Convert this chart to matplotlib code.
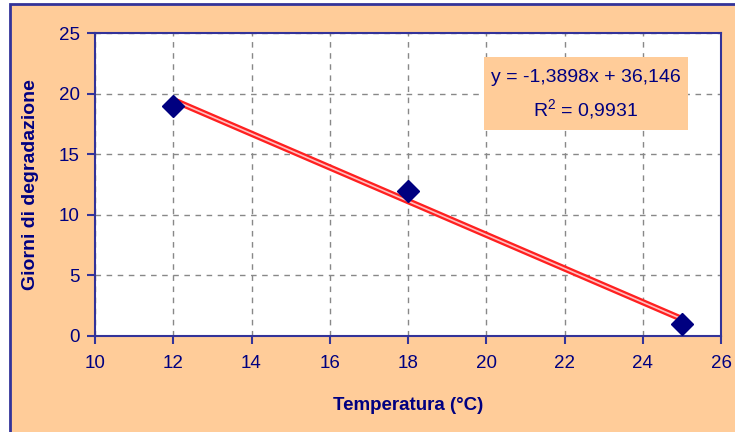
import numpy as np
import matplotlib.pyplot as plt
from matplotlib.patches import Rectangle

# dati
temperatura = [12, 18, 25]
giorni = [19, 12, 1]
x_ticks = [10, 12, 14, 16, 18, 20, 22, 24, 26]
y_ticks = [0, 5, 10, 15, 20, 25]

navy = '#000080'
bordo = '#333399'
pesca = '#FFCC99'

plt.rcParams['font.family'] = ['Liberation Sans', 'DejaVu Sans']

W, H = 735, 432
fig = plt.figure(figsize=(W / 100, H / 100), dpi=100, facecolor='white')
# sfondo dell'area del grafico con bordo
fig.add_artist(Rectangle((10 / W, -0.1), 1.0, 0.1 + 1 - 4 / H,
                         transform=fig.transFigure, facecolor=pesca,
                         edgecolor=bordo, linewidth=2, zorder=-10))

ax = fig.add_axes([95 / W, 1 - 336 / H, (721 - 95) / W, (336 - 33) / H])
ax.set_facecolor('white')

# regressione lineare
m, q = np.polyfit(temperatura, giorni, 1)
r2 = np.corrcoef(temperatura, giorni)[0, 1] ** 2
xs = np.array([min(temperatura), max(temperatura)])
ax.plot(xs, m * xs + q, color='#ff2020', lw=4.5, solid_capstyle='butt', zorder=3)
ax.plot(xs, m * xs + q, color='#ffc0c0', lw=1.2, solid_capstyle='butt', zorder=4)

ax.plot(temperatura, giorni, 'D', color=navy, markersize=11, zorder=5)

ax.set_xlim(10, 26)
ax.set_ylim(0, 25)
ax.set_xticks(x_ticks)
ax.set_yticks(y_ticks)
ax.grid(True, color='#888888', linestyle=(0, (4, 4)), linewidth=1)
ax.set_axisbelow(True)

for s in ax.spines.values():
    s.set_color(bordo)
    s.set_linewidth(1.5)
ax.tick_params(direction='out', length=6, width=1.5, color=bordo,
               labelcolor=navy, labelsize=13.5, pad=8)
ax.tick_params(axis='y', pad=5)

ax.set_xlabel('Temperatura (°C)', fontsize=13.5, fontweight='bold', color=navy,
              labelpad=18)
ax.set_ylabel('Giorni di degradazione', fontsize=14, fontweight='bold',
              color=navy, labelpad=14)

# riquadro con l'equazione della retta
fig.add_artist(Rectangle((484 / W, 1 - 130 / H), (688 - 484) / W, 73 / H,
                         transform=fig.transFigure, facecolor=pesca,
                         edgecolor='none', zorder=6))
eq = 'y = %sx + %s' % (('%.4f' % m).replace('.', ','),
                       ('%.3f' % q).replace('.', ','))
rq = '$\\mathregular{R^2}$ = %s' % ('%.4f' % r2).replace('.', ',')
fig.text(586 / W, 1 - 78 / H, eq, ha='center', va='center', fontsize=14,
         color=navy, zorder=7)
fig.text(586 / W, 1 - 109 / H, rq, ha='center', va='center', fontsize=14,
         color=navy, zorder=7)

plt.savefig('out.png', dpi=100, facecolor=fig.get_facecolor())
